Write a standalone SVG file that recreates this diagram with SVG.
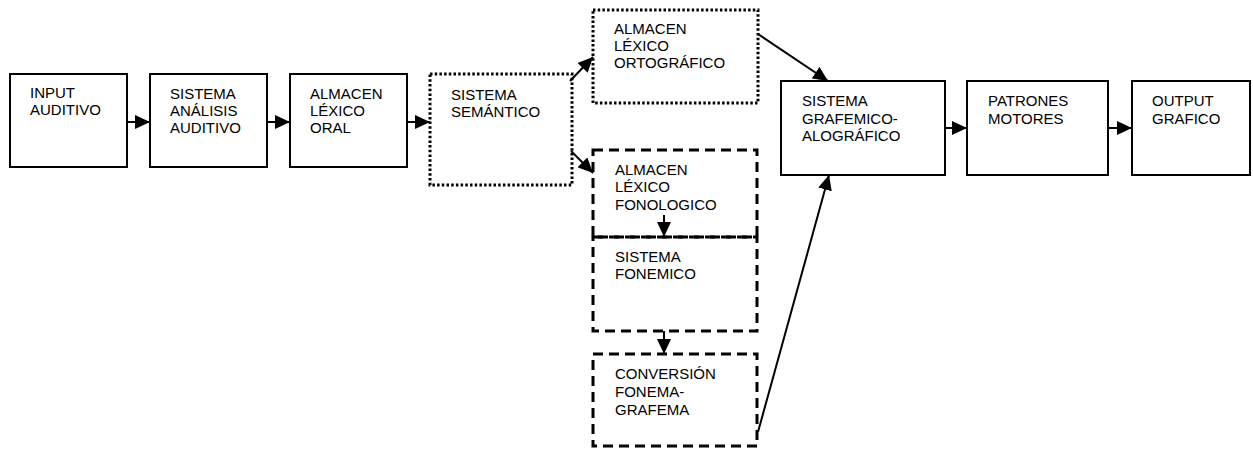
<svg xmlns="http://www.w3.org/2000/svg" width="1253" height="449" viewBox="0 0 1253 449">
<style>
.box{fill:#fff;stroke:#000;stroke-width:2}
.dot{fill:#fff;stroke:#000;stroke-width:3;stroke-dasharray:2.5 2.2}
.dash{fill:none;stroke:#000;stroke-width:3;stroke-dasharray:10 6}
text{font-family:"Liberation Sans",Arial,sans-serif;font-size:15px;fill:#000}
.c{stroke:#000;stroke-width:2;fill:none;marker-end:url(#ah)}
</style>
<defs>
<marker id="ah" markerUnits="userSpaceOnUse" markerWidth="16" markerHeight="14" refX="15" refY="7" orient="auto">
<path d="M0,0 L15,7 L0,14 z" fill="#000"/>
</marker>
</defs>
<g id="n1"><rect class="box" x="10" y="74" width="117" height="93"/><text x="30" y="98">INPUT</text><text x="30" y="115">AUDITIVO</text></g>
<g id="n2"><rect class="box" x="150" y="74" width="117" height="93"/><text x="170" y="99">SISTEMA</text><text x="170" y="116">ANÁLISIS</text><text x="170" y="133">AUDITIVO</text></g>
<g id="n3"><rect class="box" x="290" y="74" width="117" height="93"/><text x="310" y="99">ALMACEN</text><text x="310" y="116">LÉXICO</text><text x="310" y="133">ORAL</text></g>
<g id="n4"><rect class="dot" x="430" y="74" width="142" height="111"/><text x="451" y="100">SISTEMA</text><text x="451" y="117">SEMÁNTICO</text></g>
<g id="n5"><rect class="dot" x="593" y="10" width="165" height="93"/><text x="614" y="34">ALMACEN</text><text x="614" y="51">LÉXICO</text><text x="614" y="68">ORTOGRÁFICO</text></g>
<g id="n6"><rect class="dash" x="593" y="150" width="164" height="87"/><text x="615" y="175">ALMACEN</text><text x="615" y="192">LÉXICO</text><text x="615" y="210">FONOLOGICO</text></g>
<g id="n7"><rect class="dash" x="593" y="237" width="164" height="94"/><text x="615" y="262">SISTEMA</text><text x="615" y="279">FONEMICO</text></g>
<g id="n8"><rect class="dash" x="593" y="354" width="164" height="92"/><text x="615" y="379">CONVERSIÓN</text><text x="615" y="397">FONEMA-</text><text x="615" y="415">GRAFEMA</text></g>
<g id="n9"><rect class="box" x="781" y="81" width="164" height="94"/><text x="802" y="106">SISTEMA</text><text x="802" y="124">GRAFEMICO-</text><text x="802" y="141">ALOGRÁFICO</text></g>
<g id="n10"><rect class="box" x="967" y="81" width="141" height="94"/><text x="988" y="106">PATRONES</text><text x="988" y="124">MOTORES</text></g>
<g id="n11"><rect class="box" x="1132" y="81" width="118" height="94"/><text x="1152" y="106">OUTPUT</text><text x="1152" y="124">GRAFICO</text></g>
<g id="connectors">
<line class="c" x1="127" y1="122" x2="150" y2="122"/>
<line class="c" x1="267" y1="122" x2="290" y2="122"/>
<line class="c" x1="407" y1="122" x2="430" y2="122"/>
<line class="c" x1="570" y1="81" x2="593" y2="57"/>
<line class="c" x1="571" y1="151" x2="593" y2="173"/>
<line class="c" x1="664" y1="215" x2="664" y2="237"/>
<line class="c" x1="664" y1="331" x2="664" y2="354"/>
<line class="c" x1="758" y1="34" x2="828" y2="81"/>
<line class="c" x1="758" y1="432" x2="829" y2="175"/>
<line class="c" x1="945" y1="128" x2="967" y2="128"/>
<line class="c" x1="1108" y1="128" x2="1132" y2="128"/>
</g>
</svg>
